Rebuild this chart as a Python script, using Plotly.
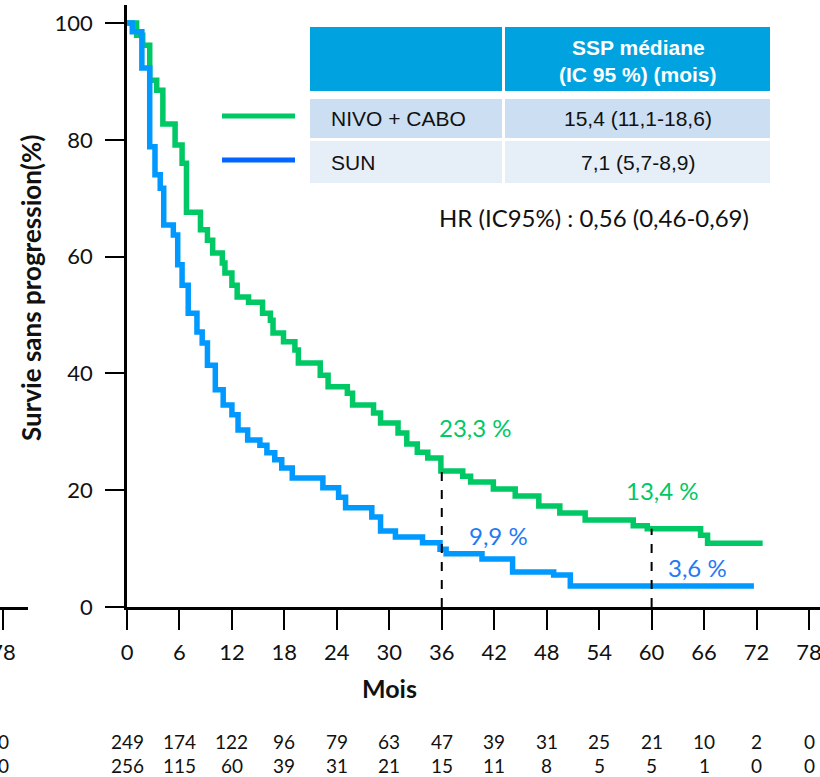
import plotly.graph_objects as go

W, H = 820, 777

# Progression-free survival step curves (months, %)
nivo_t = [0, 1.1, 1.8, 2.6, 3.4, 4.1, 5.5, 6.3, 6.8, 8.4, 9.2, 9.8, 10.9, 11.2, 12.0, 12.6,
          13.9, 15.5, 16.4, 16.7, 17.9, 19.2, 19.6, 22.1, 23.0, 25.2, 25.8, 28.2, 29.0, 31.0,
          32.0, 33.2, 34.4, 35.9, 38.4, 39.3, 41.9, 44.4, 47.1, 49.5, 52.4, 57.9, 59.5, 65.6,
          66.4, 72.7]
nivo_s = [100, 97.9, 96.2, 90.2, 88.5, 82.7, 79.1, 76.0, 67.6, 64.6, 62.8, 60.6, 58.9, 57.2,
          55.1, 53.1, 52.2, 50.3, 49.1, 46.9, 45.4, 44.0, 41.8, 39.7, 37.7, 36.6, 34.6, 33.2,
          31.5, 29.8, 27.9, 26.5, 25.5, 23.3, 22.4, 21.4, 20.2, 19.0, 17.3, 16.1, 14.9, 13.9,
          13.4, 12.3, 10.9, 10.9]

sun_t = [0, 0.6, 1.7, 2.6, 3.2, 3.8, 4.2, 5.3, 5.8, 6.3, 7.0, 8.0, 8.6, 9.2, 10.1, 11.0,
         12.0, 12.7, 13.8, 15.2, 16.0, 16.9, 17.7, 18.9, 22.4, 24.2, 25.0, 28.0, 29.0, 30.7,
         33.8, 35.8, 36.5, 40.6, 44.1, 48.8, 50.7, 71.7]
sun_s = [100, 98.5, 92.3, 78.8, 74.0, 71.7, 65.4, 63.7, 58.6, 55.1, 50.3, 47.1, 45.2, 41.4,
         37.2, 34.6, 32.9, 30.3, 28.6, 27.7, 26.4, 25.2, 23.8, 22.1, 20.4, 18.8, 17.0, 15.4,
         13.0, 12.0, 11.0, 9.9, 9.1, 8.2, 6.0, 5.5, 3.6, 3.6]

# Landmark estimates
landmark_t = [36, 60]
nivo_landmark = [23.3, 13.4]
sun_landmark = [9.9, 3.6]

# Number at risk
risk_t = [0, 6, 12, 18, 24, 30, 36, 42, 48, 54, 60, 66, 72, 78]
risk_nivo = [249, 174, 122, 96, 79, 63, 47, 39, 31, 25, 21, 10, 2, 0]
risk_sun = [256, 115, 60, 39, 31, 21, 15, 11, 8, 5, 5, 1, 0, 0]

# Summary table
arm_names = ["NIVO + CABO", "SUN"]
median_pfs = ["15,4 (11,1-18,6)", "7,1 (5,7-8,9)"]
header_lines = ["SSP médiane", "(IC 95 %) (mois)"]
hr_text = "HR (IC95%) : 0,56 (0,46-0,69)"

GREEN = "#00C864"
BLUE_LINE = "#0099FF"
BLUE_KEY = "#0066FF"
BLUE_TXT = "#1F7BF5"
HEAD_BG = "#00A3E0"
ROW1_BG = "#CCDFF2"
ROW2_BG = "#E6EEF8"
INK = "#111111"
CAL = "Lato, Carlito, sans-serif"
ARIAL = "Liberation Sans, Arial, sans-serif"


def px(x):
    return x / W


def py(y):
    return 1 - y / H


def note(x, y, text, font, xref="paper", yref="paper", xanchor="center", **kw):
    fig.add_annotation(x=x, y=y, xref=xref, yref=yref, text=text, font=font,
                       showarrow=False, xanchor=xanchor, yanchor="middle", **kw)


fig = go.Figure()

fig.add_trace(go.Scatter(x=nivo_t, y=nivo_s, mode="lines", name=arm_names[0],
                         line=dict(shape="hv", color=GREEN, width=5.5)))
fig.add_trace(go.Scatter(x=sun_t, y=sun_s, mode="lines", name=arm_names[1],
                         line=dict(shape="hv", color=BLUE_LINE, width=5.5)))

# Dashed drop lines at landmark times, up to the upper curve
for t, v in zip(landmark_t, nivo_landmark):
    fig.add_trace(go.Scatter(x=[t, t], y=[0, v], mode="lines", showlegend=False,
                             line=dict(color="black", width=2, dash="dash")))

# Landmark labels
nivo_lbl_pos = [(39.9, 30.8), (61.3, 19.9)]
sun_lbl_pos = [(42.5, 12.3), (65.3, 6.7)]
for (x, y), v in zip(nivo_lbl_pos, nivo_landmark):
    note(x, y, f"{v:.1f} %".replace(".", ","), dict(family=CAL, size=24, color=GREEN),
         xref="x", yref="y")
for (x, y), v in zip(sun_lbl_pos, sun_landmark):
    note(x, y, f"{v:.1f} %".replace(".", ","), dict(family=CAL, size=24, color=BLUE_TXT),
         xref="x", yref="y")

# Number at risk rows
risk_font = dict(family=CAL, size=19, color=INK)
for t, a, b in zip(risk_t, risk_nivo, risk_sun):
    note(t, py(741), str(a), risk_font, xref="x")
    note(t, py(765), str(b), risk_font, xref="x")
# neighbouring panel's last column
for yy in (741, 765):
    note(78, py(yy), "0", risk_font, xref="x2")

# Axis titles
note(px(389), py(688), "<b>Mois</b>", dict(family=CAL, size=25, color=INK))
note(px(31), py(288), "<b>Survie sans progression(%)</b>",
     dict(family=CAL, size=26, color=INK), textangle=-90)

# Legend keys
for yk, col in ((116, GREEN), (160, BLUE_KEY)):
    fig.add_shape(type="line", xref="paper", yref="paper", x0=px(222), x1=px(295),
                  y0=py(yk), y1=py(yk), line=dict(color=col, width=5))

# Summary table
cells = [
    (310, 502, 27, 91, HEAD_BG), (505, 770, 27, 91, HEAD_BG),
    (310, 502, 99, 138, ROW1_BG), (505, 770, 99, 138, ROW1_BG),
    (310, 502, 141, 183, ROW2_BG), (505, 770, 141, 183, ROW2_BG),
]
for x0, x1, y0, y1, c in cells:
    fig.add_shape(type="rect", xref="paper", yref="paper", x0=px(x0), x1=px(x1),
                  y0=py(y1), y1=py(y0), fillcolor=c, line=dict(width=0), layer="below")

for yy, line in zip((48, 74), header_lines):
    note(px(638), py(yy), f"<b>{line}</b>", dict(family=ARIAL, size=21, color="white"))
for yy, name, med in zip((118, 162), arm_names, median_pfs):
    note(px(329), py(yy), name, dict(family=ARIAL, size=21, color=INK), xanchor="left")
    note(px(638), py(yy), med, dict(family=ARIAL, size=21, color=INK))

note(px(594), py(217), hr_text, dict(family=CAL, size=24, color=INK))

ppm = (809 - 127) / 78.0
x_end = 78 + (W - 809) / ppm
ydom = [py(607), py(5)]
y_top = 100 + (23 - 5) / 5.84
tick_font = dict(family=CAL, size=22, color=INK)
axis_common = dict(ticks="outside", tickwidth=2, tickcolor="black",
                   showline=True, linewidth=2.5, linecolor="black",
                   showgrid=False, zeroline=False, automargin=False,
                   tickfont=tick_font)

fig.update_layout(
    width=W, height=H, margin=dict(l=0, r=0, t=0, b=0, autoexpand=False),
    paper_bgcolor="white", plot_bgcolor="white", showlegend=False,
    xaxis=dict(domain=[px(127), 1], range=[0, x_end], tickvals=risk_t, ticklen=20,
               ticklabelstandoff=4, ticklabeloverflow="allow", **axis_common),
    yaxis=dict(domain=ydom, range=[0, y_top], tickvals=[0, 20, 40, 60, 80, 100],
               ticklen=19, ticklabelstandoff=8, **axis_common),
    xaxis2=dict(domain=[0, px(28)], anchor="y2", range=[78 - 3 / ppm, 78 + 25 / ppm],
                tickvals=[78], ticklen=20, ticklabelstandoff=4,
                ticklabeloverflow="allow", **axis_common),
    yaxis2=dict(domain=ydom, range=[0, y_top], visible=False, anchor="x2",
                automargin=False),
)

fig.write_html("out.html")
